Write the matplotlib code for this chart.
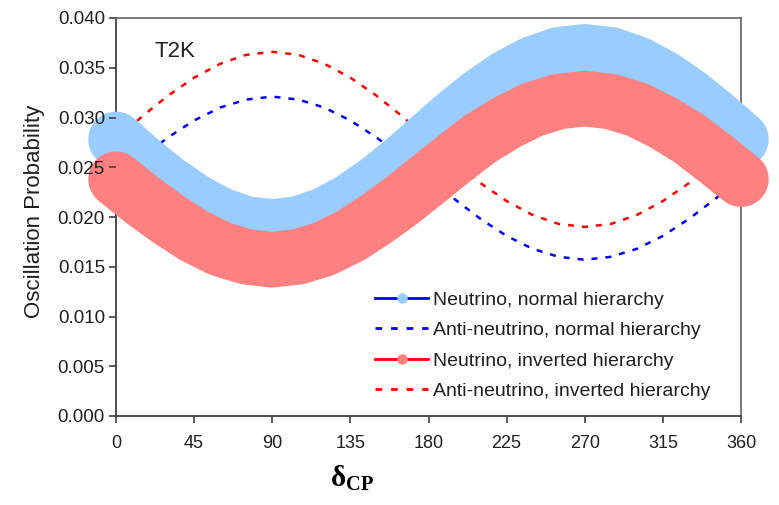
import matplotlib
matplotlib.use("Agg")
import matplotlib.pyplot as plt
from matplotlib.lines import Line2D

plt.rcParams['font.family'] = ['Liberation Sans', 'DejaVu Sans']
plt.rcParams['mathtext.fontset'] = 'custom'
plt.rcParams['mathtext.bf'] = 'Liberation Serif:bold'
plt.rcParams['mathtext.rm'] = 'Liberation Serif:bold'

# delta_CP in degrees, 15 degree steps
delta_cp = [0, 15, 30, 45, 60, 75, 90, 105, 120, 135, 150, 165, 180,
            195, 210, 225, 240, 255, 270, 285, 300, 315, 330, 345, 360]

nu_normal = [0.0278, 0.0255, 0.0234, 0.0216, 0.0202, 0.0193, 0.0190, 0.0193,
             0.0202, 0.0216, 0.0234, 0.0255, 0.0278, 0.0301, 0.0322, 0.0340,
             0.0354, 0.0363, 0.0366, 0.0363, 0.0354, 0.0340, 0.0322, 0.0301,
             0.0278]
antinu_normal = [0.0239, 0.0260, 0.0280, 0.0297, 0.0310, 0.0318, 0.0321, 0.0318,
                 0.0310, 0.0297, 0.0280, 0.0260, 0.0239, 0.0218, 0.0198, 0.0181,
                 0.0168, 0.0160, 0.0157, 0.0160, 0.0168, 0.0181, 0.0198, 0.0218,
                 0.0239]
nu_inverted = [0.0238, 0.0217, 0.0198, 0.0181, 0.0168, 0.0160, 0.0157, 0.0160,
               0.0168, 0.0181, 0.0198, 0.0217, 0.0238, 0.0259, 0.0279, 0.0295,
               0.0308, 0.0316, 0.0319, 0.0316, 0.0308, 0.0295, 0.0279, 0.0259,
               0.0238]
antinu_inverted = [0.0278, 0.0301, 0.0322, 0.0340, 0.0354, 0.0363, 0.0366, 0.0363,
                   0.0354, 0.0340, 0.0322, 0.0301, 0.0278, 0.0255, 0.0234, 0.0216,
                   0.0202, 0.0193, 0.0190, 0.0193, 0.0202, 0.0216, 0.0234, 0.0255,
                   0.0278]

labels = ['Neutrino, normal hierarchy', 'Anti-neutrino, normal hierarchy',
          'Neutrino, inverted hierarchy', 'Anti-neutrino, inverted hierarchy']

light_blue = '#99ccff'
light_red = '#ff8080'
dash = (2.4, 3.2)

fig = plt.figure(figsize=(7.79, 5.05), dpi=100)
ax = fig.add_axes([116 / 779, 89 / 505, 625 / 779, 398 / 505])

# dashed anti-neutrino curves sit underneath the thick bands
ax.plot(delta_cp, antinu_normal, color='#0000ff', lw=1.8, dashes=dash, zorder=2)
ax.plot(delta_cp, antinu_inverted, color='#ff0000', lw=1.8, dashes=dash, zorder=2)

# the neutrino curves are heavy bands of overlapping markers
ax.plot(delta_cp, nu_normal, color=light_blue, lw=40, solid_capstyle='round',
        solid_joinstyle='round', clip_on=False, zorder=3)
ax.plot(delta_cp, nu_inverted, color=light_red, lw=40, solid_capstyle='round',
        solid_joinstyle='round', clip_on=False, zorder=4)

ax.set_xlim(0, 360)
ax.set_ylim(0, 0.040)
ax.set_xticks(range(0, 361, 45))
ax.set_yticks([i * 0.005 for i in range(9)])
ax.set_yticklabels([f'{i * 0.005:.3f}' for i in range(9)], fontsize=13.5)
ax.set_xticklabels([str(t) for t in range(0, 361, 45)], fontsize=13)
ax.tick_params(axis='y', direction='out', length=5, width=1.2, color='#404040',
               pad=3, labelcolor='#202020')
ax.tick_params(axis='x', direction='out', length=5, width=1.2, color='#404040',
               pad=9, labelcolor='#202020')
# y tick labels stay readable over the bands that spill past the axis
ax.yaxis.set_zorder(5)

for side in ['left', 'bottom']:
    ax.spines[side].set_color('#404040')
    ax.spines[side].set_linewidth(1.3)
for side in ['top', 'right']:
    ax.spines[side].set_color('#707070')
    ax.spines[side].set_linewidth(1.3)

ax.text(22, 0.0366, 'T2K', fontsize=16, va='center', ha='left', color='#202020')

fig.text(35 / 779, 1 - 211 / 505, 'Oscillation Probability', rotation=90,
         fontsize=16, ha='center', va='center', color='#202020')
fig.text(352 / 779, 1 - 478 / 505, r'$\mathbf{\delta}_{\mathbf{CP}}$',
         fontsize=21, ha='center', va='center')

handles = [
    Line2D([], [], color='#0000ff', lw=2, marker='o', markersize=6.5,
           markerfacecolor=light_blue, markeredgecolor=light_blue),
    Line2D([], [], color='#0000ff', lw=2, dashes=dash),
    Line2D([], [], color='#ff0000', lw=2, marker='o', markersize=6.5,
           markerfacecolor=light_red, markeredgecolor=light_red),
    Line2D([], [], color='#ff0000', lw=2, dashes=dash),
]
fig.legend(handles, labels, loc='upper left', bbox_to_anchor=(375 / 779, 1 - 291 / 505),
           frameon=False, fontsize=14, borderpad=0, borderaxespad=0,
           handlelength=2.75, handletextpad=0.25, labelspacing=0.66,
           labelcolor='#202020')

fig.savefig('out.png', dpi=100)
